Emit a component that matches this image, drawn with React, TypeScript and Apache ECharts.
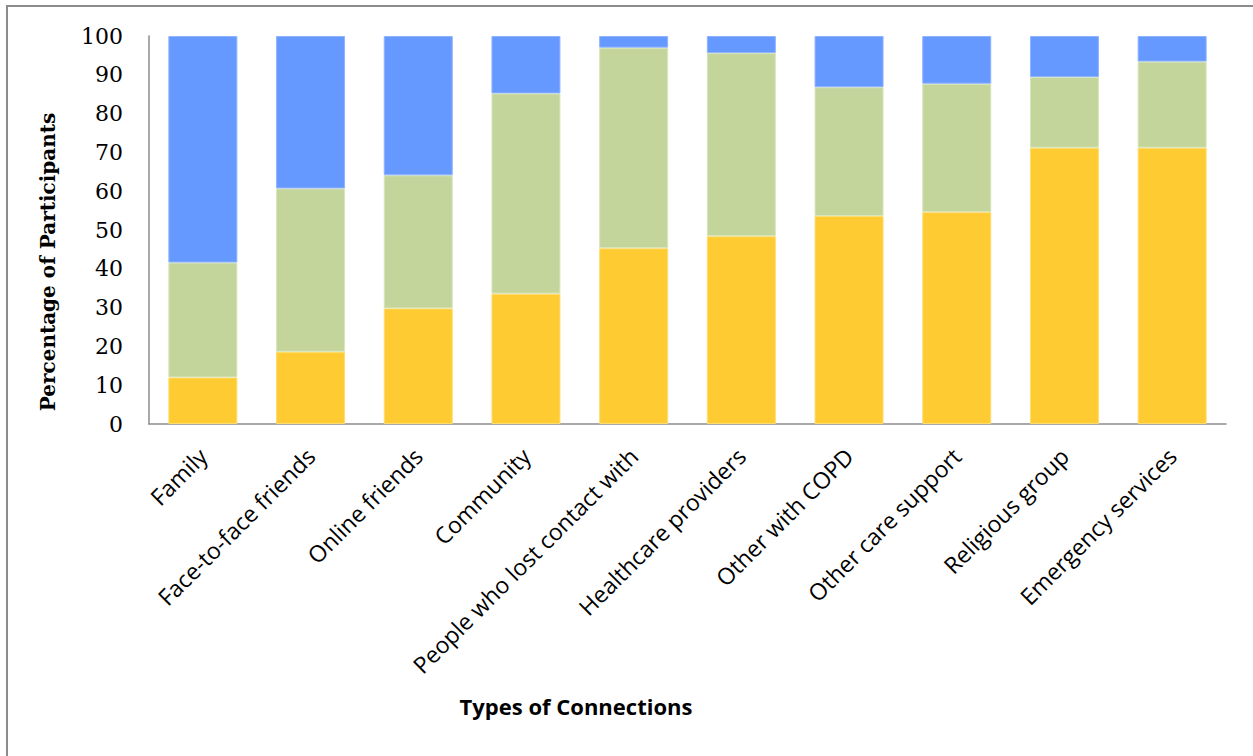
import React, { useEffect, useRef } from "react";
import * as echarts from "echarts";

const categories = [
  "Family",
  "Face-to-face friends",
  "Online friends",
  "Community",
  "People who lost contact with",
  "Healthcare providers",
  "Other with COPD",
  "Other care support",
  "Religious group",
  "Emergency services",
];

const yellowValues = [12.0, 18.6, 29.8, 33.6, 45.3, 48.4, 53.6, 54.6, 71.2, 71.2];
const greenValues = [29.6, 42.1, 34.3, 51.6, 51.7, 47.2, 33.2, 33.1, 18.2, 22.2];
const blueValues = [58.4, 39.3, 35.9, 14.8, 3.0, 4.4, 13.2, 12.3, 10.6, 6.6];

const yTicks = [0, 10, 20, 30, 40, 50, 60, 70, 80, 90, 100];

const xTitle = "Types of Connections";
const yTitle = "Percentage of Participants";

const seriesNames = ["Yellow", "Green", "Blue"];
const seriesColors = ["#FFCB33", "#C4D59C", "#6699FF"];
const seriesBorders = ["#FFDC70", "#D8E6BC", "#8FB3FF"];

export default function App() {
  const ref = useRef<HTMLDivElement>(null);
  useEffect(() => {
    if (!ref.current) return;
    const chart = echarts.init(ref.current, undefined, { renderer: "svg" });
    const data = [yellowValues, greenValues, blueValues];
    chart.setOption({
      animation: false,
      backgroundColor: "#ffffff",
      grid: { left: 149, right: 27, top: 36, bottom: 332, containLabel: false },
      xAxis: {
        type: "category",
        data: categories,
        axisLine: { show: true, lineStyle: { color: "#8c8c8c", width: 1.5 } },
        axisTick: { show: false },
        axisLabel: {
          rotate: 45,
          interval: 0,
          margin: 28,
          color: "#000",
          fontFamily: "Open Sans",
          fontSize: 23,
        },
      },
      yAxis: {
        type: "value",
        min: 0,
        max: 100,
        interval: 10,
        axisLine: { show: true, lineStyle: { color: "#8c8c8c", width: 1.5 } },
        axisTick: { show: false },
        splitLine: { show: false },
        axisLabel: {
          margin: 26,
          color: "#000",
          fontFamily: "DejaVu Serif",
          fontSize: 22,
          formatter: (v: number) => (yTicks.includes(v) ? String(v) : ""),
        },
      },
      series: data.map((vals, i) => ({
        name: seriesNames[i],
        type: "bar",
        stack: "total",
        barWidth: 69,
        data: vals,
        itemStyle: {
          color: seriesColors[i],
          borderColor: seriesBorders[i],
          borderWidth: 1,
        },
      })),
      graphic: [
        {
          type: "rect",
          shape: { x: 7, y: 6, width: 1280, height: 800 },
          style: { fill: "none", stroke: "#8c8c8c", lineWidth: 2 },
          silent: true,
        },
        {
          type: "text",
          x: 576,
          y: 706,
          style: {
            text: xTitle,
            align: "center",
            verticalAlign: "middle",
            fontFamily: "Open Sans",
            fontWeight: "bold",
            fontSize: 22,
            fill: "#000",
          },
        },
        {
          type: "text",
          x: 48,
          y: 262,
          rotation: Math.PI / 2,
          style: {
            text: yTitle,
            align: "center",
            verticalAlign: "middle",
            fontFamily: "DejaVu Serif",
            fontWeight: "bold",
            fontSize: 20,
            fill: "#000",
          },
        },
      ],
    });
    return () => chart.dispose();
  }, []);
  return (
    <div
      ref={ref}
      style={{ position: "absolute", left: 0, top: 0, width: 1253, height: 756 }}
    />
  );
}
